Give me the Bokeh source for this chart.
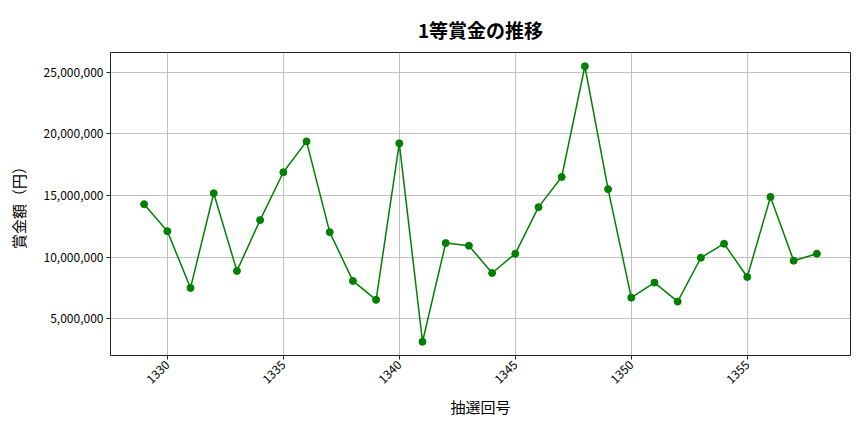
import math
from bokeh.plotting import figure
from bokeh.models import ColumnDataSource, NumeralTickFormatter, SingleIntervalTicker, Range1d
from bokeh.embed import file_html
from bokeh.resources import INLINE

draws = list(range(1329, 1359))
prize = [14290000, 12100000, 7490000, 15180000, 8870000, 13000000, 16880000, 19390000,
         12020000, 8060000, 6520000, 19230000, 3120000, 11130000, 10920000, 8700000,
         10270000, 14050000, 16500000, 25490000, 15510000, 6700000, 7920000, 6380000,
         9940000, 11080000, 8380000, 14880000, 9700000, 10270000]

title_text = "1等賞金の推移"
x_label = "抽選回号"
y_label = "賞金額（円）"

FONT = "Noto Sans CJK JP"
src = ColumnDataSource(dict(x=draws, y=prize))

pad_x = (max(draws) - min(draws)) * 0.05
pad_y = (max(prize) - min(prize)) * 0.05

p = figure(width=856, height=424, output_backend="svg", toolbar_location=None,
           x_range=Range1d(min(draws) - pad_x, max(draws) + pad_x),
           y_range=Range1d(min(prize) - pad_y, max(prize) + pad_y),
           min_border_left=110, min_border_right=6, min_border_top=52, min_border_bottom=69)

p.title.text = title_text
p.title.align = "center"
p.title.text_font = FONT
p.title.text_font_size = "19px"
p.title.text_font_style = "bold"
p.title.text_color = "#000000"
p.title.standoff = 20
p.title.text_line_height = 0.6

p.line("x", "y", source=src, color="#008000", line_width=1.5)
p.scatter("x", "y", source=src, size=7, color="#008000", line_color="#008000")

p.xaxis.ticker = SingleIntervalTicker(interval=5)
p.yaxis.ticker = SingleIntervalTicker(interval=5000000)
p.yaxis.formatter = NumeralTickFormatter(format="0,0")
p.xaxis.major_label_orientation = math.pi / 4

for ax in (p.xaxis[0], p.yaxis[0]):
    ax.major_label_text_font = FONT
    ax.major_label_text_font_size = "12px"
    ax.major_label_text_color = "#000000"
    ax.axis_label_text_font = FONT
    ax.axis_label_text_font_size = "15px"
    ax.axis_label_text_font_style = "normal"
    ax.axis_label_text_color = "#000000"
    ax.minor_tick_line_color = None
    ax.major_tick_out = 4
    ax.major_tick_in = 0
    ax.major_label_standoff = 3
    ax.axis_line_color = None
    ax.major_tick_line_color = "#222222"

p.xaxis.axis_label = x_label
p.yaxis.axis_label = y_label
p.yaxis.axis_label_standoff = 12

p.outline_line_color = "#222222"
p.outline_line_width = 1
p.grid.grid_line_color = "#b0b0b0"
p.grid.grid_line_width = 0.8
p.background_fill_color = "white"
p.border_fill_color = "white"

open("out.html", "w").write(file_html(p, INLINE))
